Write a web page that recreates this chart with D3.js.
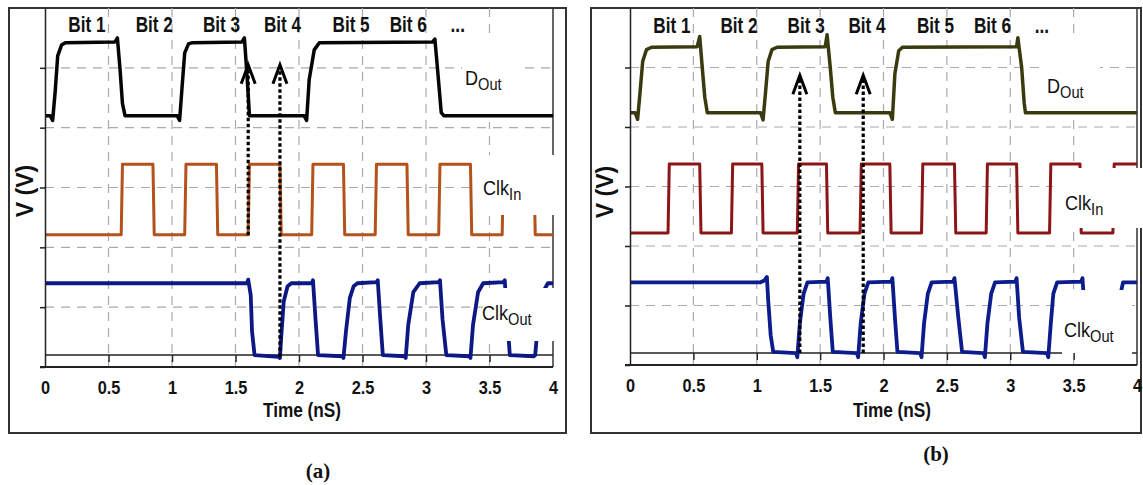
<!DOCTYPE html>
<html>
<head>
<meta charset="utf-8">
<script src="https://cdn.jsdelivr.net/npm/d3@7"></script>
<style>
    body { margin: 0; background: #fff; }
    svg { display: block; }
    .lbl { font-family: "Liberation Sans", Arial, sans-serif; font-weight: bold; fill: #111; }
    .cap { font-family: "Liberation Serif", "Times New Roman", serif; font-weight: bold; font-size: 21px; fill: #111; }
</style>
</head>
<body>
<svg id="chart" width="1143" height="485"></svg>
<script>

// axis / annotation data
const timeTicks = [0, 0.5, 1, 1.5, 2, 2.5, 3, 3.5, 4];
const timeTickLabels = ['0', '0.5', '1', '1.5', '2', '2.5', '3', '3.5', '4'];
const gridTimes = [0.5, 1, 1.5, 2, 2.5, 3, 3.5];
const voltTicks = [0, 1, 2, 3, 4, 5];
const voltGrid = [1, 2, 3, 4, 5];
const bitNames = ['Bit 1', 'Bit 2', 'Bit 3', 'Bit 4', 'Bit 5', 'Bit 6', '...'];
const bitTimes = [0.33, 0.86, 1.39, 1.87, 2.41, 2.86, 3.25];
const refLevel = 0.2;
const seriesMain = ['D', 'Clk', 'Clk'];
const seriesSub = ['Out', 'In', 'Out'];

// (a) waveforms [time nS, level]
const dOutA = [[0, 4.2], [0.04, 4.2], [0.06, 4.12], [0.08, 4.6], [0.1, 5.2], [0.13, 5.38], [0.16, 5.42],
    [0.55, 5.43], [0.57, 5.5], [0.59, 5.0], [0.61, 4.4], [0.63, 4.2], [1.04, 4.2], [1.06, 4.12], [1.08, 4.7],
    [1.1, 5.25], [1.13, 5.4], [1.16, 5.42], [1.55, 5.43], [1.57, 5.5], [1.59, 4.9], [1.61, 4.2], [2.04, 4.2],
    [2.06, 4.12], [2.08, 4.8], [2.12, 5.3], [2.16, 5.42], [3.05, 5.43], [3.07, 5.48], [3.09, 5.0], [3.12, 4.25],
    [3.14, 4.2], [4, 4.2]];
const clkInA = [[0, 2.21], [0.6, 2.21], [0.61, 3.39], [0.85, 3.39], [0.86, 2.21], [1.1, 2.21], [1.11, 3.39],
    [1.35, 3.39], [1.36, 2.21], [1.6, 2.21], [1.61, 3.39], [1.85, 3.39], [1.86, 2.21], [2.1, 2.21], [2.11, 3.39],
    [2.35, 3.39], [2.36, 2.21], [2.6, 2.21], [2.61, 3.39], [2.85, 3.39], [2.86, 2.21], [3.1, 2.21], [3.11, 3.39],
    [3.35, 3.39], [3.36, 2.21], [3.6, 2.21], [3.61, 3.39], [3.85, 3.39], [3.86, 2.21], [4, 2.21]];
const clkOutA = [[0, 1.4], [1.59, 1.4], [1.6, 1.46], [1.62, 1.2], [1.63, 0.6], [1.65, 0.2], [1.84, 0.17],
    [1.85, 0.15], [1.86, 0.5], [1.88, 1.1], [1.91, 1.35], [1.94, 1.4], [2.1, 1.4], [2.11, 1.45], [2.13, 0.8],
    [2.15, 0.2], [2.34, 0.18], [2.35, 0.15], [2.37, 0.6], [2.4, 1.15], [2.43, 1.35], [2.46, 1.4], [2.61, 1.42],
    [2.62, 1.45], [2.64, 0.8], [2.66, 0.2], [2.83, 0.18], [2.84, 0.15], [2.86, 0.7], [2.9, 1.25], [2.95, 1.4],
    [3.1, 1.42], [3.11, 1.45], [3.13, 0.8], [3.16, 0.2], [3.34, 0.18], [3.35, 0.15], [3.37, 0.7], [3.41, 1.25],
    [3.45, 1.4], [3.61, 1.42], [3.62, 1.45], [3.64, 0.8], [3.66, 0.2], [3.85, 0.18], [3.86, 0.2], [3.88, 0.7],
    [3.92, 1.25], [3.96, 1.4], [4, 1.4]];

// (b) waveforms
const dOutB = [[0, 4.24], [0.04, 4.24], [0.06, 4.13], [0.08, 4.6], [0.1, 5.1], [0.13, 5.3], [0.17, 5.34],
    [0.53, 5.35], [0.55, 5.52], [0.57, 5.0], [0.59, 4.5], [0.61, 4.24], [1.03, 4.24], [1.05, 4.12], [1.07, 4.6],
    [1.09, 5.1], [1.12, 5.3], [1.16, 5.34], [1.54, 5.35], [1.555, 5.55], [1.58, 5.0], [1.6, 4.5], [1.62, 4.24],
    [2.05, 4.24], [2.07, 4.13], [2.09, 4.9], [2.12, 5.28], [2.15, 5.34], [3.05, 5.35], [3.06, 5.5], [3.09, 5.0],
    [3.11, 4.4], [3.12, 4.24], [4, 4.24]];
const clkInB = [[0, 2.22], [0.3, 2.22], [0.31, 3.38], [0.55, 3.38], [0.56, 2.22], [0.8, 2.22], [0.81, 3.38],
    [1.04, 3.38], [1.05, 2.22], [1.32, 2.22], [1.33, 3.38], [1.55, 3.38], [1.56, 2.22], [1.815, 2.22], [1.825, 3.38],
    [2.05, 3.38], [2.06, 2.22], [2.3, 2.22], [2.31, 3.38], [2.56, 3.38], [2.57, 2.22], [2.81, 2.22], [2.82, 3.38],
    [3.05, 3.38], [3.06, 2.22], [3.31, 2.22], [3.32, 3.38], [3.55, 3.38], [3.56, 2.22], [3.81, 2.22], [3.82, 3.38],
    [4, 3.38]];
const clkOutB = [[0, 1.39], [1.03, 1.39], [1.06, 1.42], [1.08, 1.48], [1.09, 1.1], [1.11, 0.5], [1.13, 0.22],
    [1.31, 0.2], [1.32, 0.13], [1.34, 0.7], [1.37, 1.2], [1.4, 1.39], [1.55, 1.4], [1.56, 1.46], [1.58, 0.8],
    [1.6, 0.22], [1.79, 0.2], [1.8, 0.13], [1.82, 0.7], [1.85, 1.2], [1.88, 1.39], [2.06, 1.4], [2.07, 1.46],
    [2.09, 0.8], [2.11, 0.22], [2.29, 0.2], [2.3, 0.13], [2.32, 0.7], [2.35, 1.2], [2.38, 1.39], [2.55, 1.4],
    [2.56, 1.46], [2.59, 0.8], [2.62, 0.22], [2.79, 0.2], [2.8, 0.13], [2.82, 0.7], [2.85, 1.2], [2.88, 1.39],
    [3.04, 1.4], [3.05, 1.46], [3.07, 0.8], [3.1, 0.22], [3.29, 0.2], [3.3, 0.13], [3.32, 0.7], [3.34, 1.2],
    [3.37, 1.39], [3.56, 1.4], [3.57, 1.46], [3.59, 0.8], [3.61, 0.22], [3.83, 0.2], [3.84, 0.4], [3.86, 1.1],
    [3.89, 1.39], [4, 1.39]];

// dotted arrows: time, bottom level, tip level
const arrowsA = [{t: 1.6, from: 2.2, to: 5.05}, {t: 1.85, from: 0.17, to: 5.05}];
const arrowsB = [{t: 1.34, from: 0.2, to: 4.87}, {t: 1.84, from: 0.2, to: 4.87}];

const panels = [
    {
        caption: '(a)', series: [dOutA, clkInA, clkOutA], arrows: arrowsA,
        colors: ['#050505', '#b4521c', '#0c1884'],
        outer: [9, 8, 557, 425], left: 45, right: 553, top: 8, bottom: 367,
        bitY: 32, capX: 318, capY: 478, timeX: 302, timeY: 417, vX: 25, vY: 191,
        labels: [[465, 85], [483, 195], [482, 320]],
        underBox: [462, 36, 58, 86],
        overBoxes: [[474, 155, 88, 60], [483, 288, 79, 53]]
    },
    {
        caption: '(b)', series: [dOutB, clkInB, clkOutB], arrows: arrowsB,
        colors: ['#3a3a10', '#8c1616', '#0c1c8c'],
        outer: [591, 8, 550, 425], left: 630, right: 1137, top: 8, bottom: 365,
        bitY: 33, capX: 936, capY: 461, timeX: 892, timeY: 417, vX: 605, vY: 192,
        labels: [[1047, 93], [1065, 210], [1064, 337]],
        underBox: [1040, 36, 60, 84],
        overBoxes: [[1053, 168, 90, 60], [1062, 290, 70, 68]]
    }
];

const svg = d3.select('#chart');

function drawPanel(p) {
    let g = svg.append('g');

    g.append('rect')
        .attr('x', p.outer[0]).attr('y', p.outer[1])
        .attr('width', p.outer[2]).attr('height', p.outer[3])
        .attr('fill', 'none').attr('stroke', '#333').attr('stroke-width', 2);

    let x = d3.scaleLinear().domain([0, 4]).range([p.left, p.right]);
    let y = d3.scaleLinear().domain([0, 6]).range([p.bottom, p.top]);

    // dashed grid
    g.append('g').selectAll('line')
        .data(gridTimes)
        .join('line')
        .attr('x1', d => x(d)).attr('x2', d => x(d))
        .attr('y1', y(6)).attr('y2', y(0))
        .attr('stroke', '#aaa').attr('stroke-width', 1.2).attr('stroke-dasharray', '9,7');
    g.append('g').selectAll('line')
        .data(voltGrid)
        .join('line')
        .attr('x1', x(0)).attr('x2', x(4))
        .attr('y1', d => y(d)).attr('y2', d => y(d))
        .attr('stroke', '#aaa').attr('stroke-width', 1.2).attr('stroke-dasharray', '9,7');

    // label box under traces
    g.append('rect')
        .attr('x', p.underBox[0]).attr('y', p.underBox[1])
        .attr('width', p.underBox[2]).attr('height', p.underBox[3])
        .attr('fill', '#fff');

    // reference line
    g.append('line')
        .attr('x1', x(0)).attr('x2', x(4))
        .attr('y1', y(refLevel)).attr('y2', y(refLevel))
        .attr('stroke', '#222').attr('stroke-width', 1.5);

    // right border
    g.append('line')
        .attr('x1', x(4)).attr('x2', x(4))
        .attr('y1', y(6)).attr('y2', y(0))
        .attr('stroke', '#333').attr('stroke-width', 1.5);

    let line = d3.line().x(d => x(d[0])).y(d => y(d[1]));
    let widths = [3.5, 3, 3.8];
    g.append('g').selectAll('path')
        .data(p.series)
        .join('path')
        .attr('d', line)
        .attr('fill', 'none')
        .attr('stroke', (d, i) => p.colors[i])
        .attr('stroke-width', (d, i) => widths[i])
        .attr('stroke-linejoin', 'round');

    // dotted arrows
    let arr = g.append('g').selectAll('g')
        .data(p.arrows)
        .join('g');
    arr.append('line')
        .attr('x1', d => x(d.t)).attr('x2', d => x(d.t))
        .attr('y1', d => y(d.from)).attr('y2', d => y(d.to) + 4)
        .attr('stroke', '#000').attr('stroke-width', 3.2).attr('stroke-dasharray', '3.5,2.5');
    arr.append('path')
        .attr('d', d => `M${x(d.t) - 7},${y(d.to) + 19}L${x(d.t)},${y(d.to)}L${x(d.t) + 7},${y(d.to) + 19}`)
        .attr('fill', 'none').attr('stroke', '#000').attr('stroke-width', 3);

    // label boxes over traces
    g.append('g').selectAll('rect')
        .data(p.overBoxes)
        .join('rect')
        .attr('x', d => d[0]).attr('y', d => d[1])
        .attr('width', d => d[2]).attr('height', d => d[3])
        .attr('fill', '#fff');

    // axes
    let yAxis = d3.axisLeft(y).tickValues(voltTicks).tickSize(5).tickSizeOuter(0).tickFormat('');
    g.append('g')
        .attr('transform', `translate(${p.left},0)`)
        .style('color', '#222')
        .call(yAxis)
        .selectAll('path, line').attr('stroke-width', 1.5);

    g.append('line')
        .attr('x1', x(0) - 5).attr('x2', x(4))
        .attr('y1', y(0)).attr('y2', y(0))
        .attr('stroke', '#222').attr('stroke-width', 1.8);

    let xTicks = d3.axisBottom(x).tickValues(gridTimes).tickSize(7).tickFormat('');
    let tk = g.append('g')
        .attr('transform', `translate(0,${y(refLevel)})`)
        .style('color', '#222')
        .call(xTicks);
    tk.select('.domain').remove();
    tk.selectAll('line').attr('stroke-width', 1.5);

    let xAxis = d3.axisBottom(x).tickValues(timeTicks)
        .tickFormat((d, i) => timeTickLabels[i])
        .tickSize(0).tickPadding(14);
    let xa = g.append('g')
        .attr('transform', `translate(0,${p.bottom})`)
        .call(xAxis);
    xa.select('.domain').remove();
    xa.selectAll('text')
        .attr('class', 'lbl')
        .attr('transform', 'scale(0.86,1)')
        .style('font-size', '19px');

    // bit labels (squeezed like a narrow face)
    g.append('g').selectAll('text')
        .data(bitNames)
        .join('text')
        .attr('class', 'lbl')
        .attr('transform', (d, i) => `translate(${x(bitTimes[i])},${p.bitY}) scale(0.78,1)`)
        .attr('text-anchor', 'middle')
        .style('font-size', '22px')
        .text(d => d);

    // series labels
    let sl = g.append('g').selectAll('text')
        .data(seriesMain)
        .join('text')
        .attr('class', 'lbl')
        .attr('transform', (d, i) => `translate(${p.labels[i][0]},${p.labels[i][1]}) scale(0.86,1)`)
        .style('font-size', '21px')
        .style('font-weight', 'normal');
    sl.append('tspan').text(d => d);
    sl.append('tspan')
        .attr('dy', 5)
        .style('font-size', '17px')
        .text((d, i) => seriesSub[i]);

    g.append('text')
        .attr('class', 'lbl')
        .attr('transform', `translate(${p.timeX},${p.timeY}) scale(0.82,1)`)
        .attr('text-anchor', 'middle')
        .style('font-size', '21px')
        .text('Time (nS)');

    g.append('text')
        .attr('class', 'lbl')
        .attr('transform', `translate(${p.vX + 8},${p.vY}) rotate(-90)`)
        .attr('text-anchor', 'middle')
        .style('font-size', '23px')
        .text('V (V)');

    g.append('text')
        .attr('class', 'cap')
        .attr('x', p.capX).attr('y', p.capY)
        .attr('text-anchor', 'middle')
        .text(p.caption);
}

panels.forEach(drawPanel);

</script>
</body>
</html>
